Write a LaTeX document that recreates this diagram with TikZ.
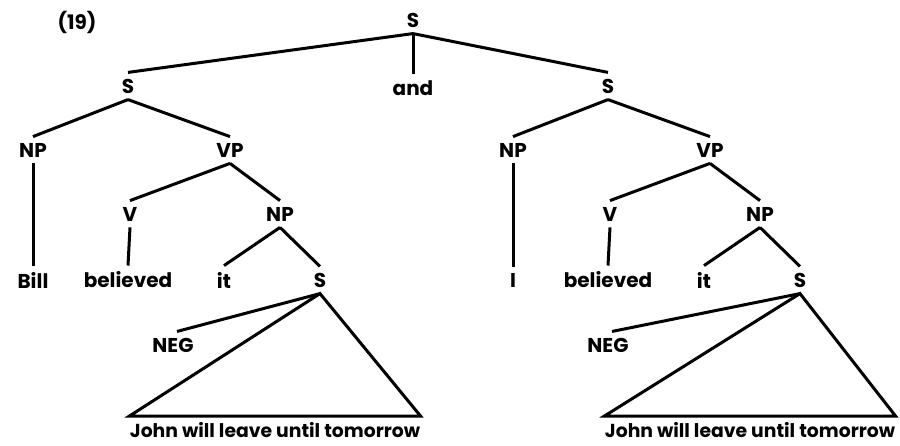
\documentclass[tikz,border=0pt]{standalone}
\usepackage{fontspec}
\setmainfont{Poppins}
\begin{document}
\begin{tikzpicture}[x=0.5pt,y=-0.5pt,
	lbl/.style={font=\bfseries\fontsize{10}{12}\selectfont, inner sep=3pt},
	txt/.style={font=\bfseries\fontsize{9.4}{11}\selectfont, inner xsep=0pt, inner ysep=3pt},
	branch/.style={line width=1.5pt, black}]
	\useasboundingbox (0,0) rectangle (900,445);
	% Top
	\node[lbl] (num) at (77,22) {(19)};
	\node[lbl] (s0) at (413,20) {S};
	\node[lbl] (and) at (413,88) {and};
	\draw[branch] (s0.south) -- (and.north);
	% Conjuncts
	\foreach \k/\dx/\ng/\jx/\subj in {1/0/173/275/Bill, 2/480/608/750/I} {
		\node[lbl] (s\k) at (128+\dx,86) {S};
		\node[lbl] (np\k) at (33+\dx,150) {NP};
		\node[lbl] (vp\k) at (230+\dx,150) {VP};
		\node[lbl] (v\k) at (130+\dx,214) {V};
		\node[lbl] (obj\k) at (280+\dx,214) {NP};
		\node[lbl] (subj\k) at (33+\dx,280) {\subj};
		\node[lbl] (verb\k) at (128+\dx,280) {believed};
		\node[lbl] (it\k) at (224+\dx,280) {it};
		\node[lbl] (cs\k) at (320+\dx,280) {S};
		\node[lbl] (neg\k) at (\ng,345) {NEG};
		\node[txt] (john\k) at (\jx,430) {John will leave until tomorrow};
		% Branches
		\draw[branch] (s0.south) -- (s\k.north);
		\draw[branch] (s\k.south) -- (np\k.north);
		\draw[branch] (s\k.south) -- (vp\k.north);
		\draw[branch] (np\k.south) -- (subj\k.north);
		\draw[branch] (vp\k.south) -- (v\k.north);
		\draw[branch] (vp\k.south) -- (obj\k.north);
		\draw[branch] (v\k.south) -- (verb\k.north);
		\draw[branch] (obj\k.south) -- (it\k.north);
		\draw[branch] (obj\k.south) -- (cs\k.north);
		\draw[branch] (cs\k.south) -- ([xshift=2pt]neg\k.north);
		\draw[branch] (cs\k.south) -- (john\k.north west) -- (john\k.north east) -- cycle;
	}
\end{tikzpicture}
\end{document}
